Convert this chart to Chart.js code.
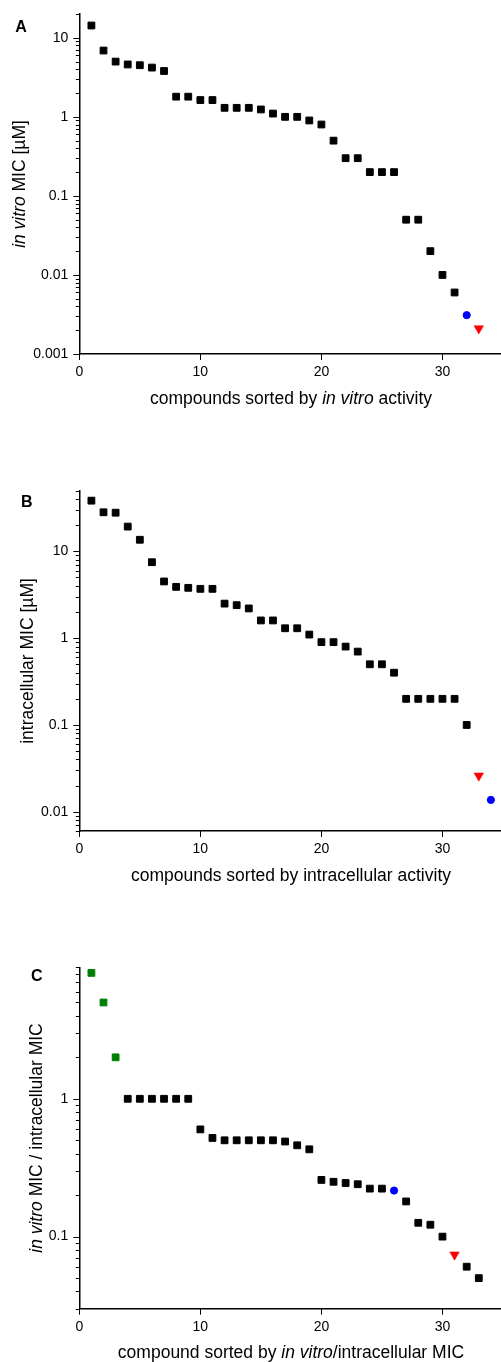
<!DOCTYPE html>
<html>
<head>
<meta charset="utf-8">
<script src="https://cdn.jsdelivr.net/npm/chart.js@4.4.1/dist/chart.umd.min.js"></script>
<style>
  body { margin: 0; background: #fff; }
  #page { position: relative; width: 501px; height: 1362px; overflow: hidden; font-family: 'Liberation Sans', Arial, sans-serif; color: #000; }
  canvas { position: absolute; left: 0; }
  .lbl { position: absolute; white-space: nowrap; line-height: 1; }
  .panel { font-weight: bold; font-size: 16px; transform: translate(-50%, -50%); }
  .xt { font-size: 17.5px; left: 79px; width: 424px; text-align: center; }
  .yt { font-size: 17.5px; transform: translate(-50%, -50%) rotate(-90deg); }
</style>
</head>
<body>
<div id="page">
  <canvas id="chartA" width="509" height="440" style="top:0px"></canvas>
  <canvas id="chartB" width="509" height="440" style="top:440px"></canvas>
  <canvas id="chartC" width="509" height="482" style="top:880px"></canvas>

  <div class="lbl panel" style="left:21px; top:27px">A</div>
  <div class="lbl yt" style="left:20px; top:184px"><i>in vitro</i> MIC [µM]</div>
  <div class="lbl xt" style="top:390px">compounds sorted by <i>in vitro</i> activity</div>

  <div class="lbl panel" style="left:26.7px; top:501.7px">B</div>
  <div class="lbl yt" style="left:28px; top:661px">intracellular MIC [µM]</div>
  <div class="lbl xt" style="top:867px">compounds sorted by intracellular activity</div>

  <div class="lbl panel" style="left:36.7px; top:976px">C</div>
  <div class="lbl yt" style="left:37px; top:1138px"><i>in vitro</i> MIC / intracellular MIC</div>
  <div class="lbl xt" style="top:1343.5px">compound sorted by <i>in vitro</i>/intracellular MIC</div>
</div>

<script>
// x tick labels (same for all three panels)
const xTicks = [0, 10, 20, 30];

// panel A - in vitro MIC
const rankA = [1, 2, 3, 4, 5, 6, 7, 8, 9, 10, 11, 12, 13, 14, 15, 16, 17, 18, 19, 20, 21, 22, 23, 24, 25, 26, 27, 28, 29, 30, 31];
const micA = [14.3, 6.9, 5.0, 4.6, 4.5, 4.2, 3.8, 1.8, 1.8, 1.63, 1.63, 1.3, 1.3, 1.3, 1.24, 1.1, 1.0, 1.0, 0.9, 0.8, 0.5, 0.3, 0.3, 0.2, 0.2, 0.2, 0.05, 0.05, 0.02, 0.01, 0.006];
const blueA = {x: 32, y: 0.0031};
const redA = {x: 33, y: 0.0021};
const yLabelsA = [0.001, 0.01, 0.1, 1, 10];

// panel B - intracellular MIC
const rankB = [1, 2, 3, 4, 5, 6, 7, 8, 9, 10, 11, 12, 13, 14, 15, 16, 17, 18, 19, 20, 21, 22, 23, 24, 25, 26, 27, 28, 29, 30, 31, 32];
const micB = [38.4, 28.2, 27.9, 19.3, 13.6, 7.5, 4.5, 3.9, 3.8, 3.7, 3.7, 2.5, 2.4, 2.2, 1.6, 1.6, 1.3, 1.3, 1.1, 0.9, 0.9, 0.8, 0.7, 0.5, 0.5, 0.4, 0.2, 0.2, 0.2, 0.2, 0.2, 0.1];
const redB = {x: 33, y: 0.026};
const blueB = {x: 34, y: 0.0137};
const yLabelsB = [0.01, 0.1, 1, 10];

// panel C - ratio in vitro / intracellular
const rankCgreen = [1, 2, 3];
const ratioCgreen = [8.2, 5.0, 2.0];
const rankC = [4, 5, 6, 7, 8, 9, 10, 11, 12, 13, 14, 15, 16, 17, 18, 19, 20, 21, 22, 23, 24, 25, 27, 28, 29, 30, 32, 33];
const ratioC = [1.0, 1.0, 1.0, 1.0, 1.0, 1.0, 0.6, 0.52, 0.5, 0.5, 0.5, 0.5, 0.5, 0.49, 0.46, 0.43, 0.258, 0.25, 0.245, 0.24, 0.223, 0.223, 0.18, 0.126, 0.122, 0.1, 0.0605, 0.05];
const blueC = {x: 26, y: 0.216};
const redC = {x: 31, y: 0.074};
const yLabelsC = [0.1, 1];

Chart.defaults.font.family = "'Liberation Sans', Arial, sans-serif";
Chart.defaults.font.size = 14;
Chart.defaults.color = '#000';

// minor + major tick positions of a log axis (1..9 x 10^n)
function logTicks(min, max) {
    const out = [];
    for (let e = Math.floor(Math.log10(min)); e <= Math.ceil(Math.log10(max)); e++) {
        for (let s = 1; s <= 9; s++) {
            const v = parseFloat((s * Math.pow(10, e)).toPrecision(6));
            if (v >= min * 0.9999 && v <= max * 1.0001) out.push(v);
        }
    }
    return out;
}

// tick marks drawn outside the plot, short ones for the minor log ticks
const tickMarks = {
    id: 'tickMarks',
    afterDraw(chart) {
        const {ctx, chartArea} = chart;
        const x = chart.scales.x;
        const y = chart.scales.y;
        ctx.save();
        ctx.strokeStyle = '#000';
        ctx.lineWidth = 1;
        y.ticks.forEach(t => {
            const py = Math.round(y.getPixelForValue(t.value)) + 0.5;
            const lg = Math.log10(t.value);
            const len = Math.abs(lg - Math.round(lg)) < 1e-6 ? 6 : 3.5;
            ctx.beginPath();
            ctx.moveTo(chartArea.left - len, py);
            ctx.lineTo(chartArea.left, py);
            ctx.stroke();
        });
        x.ticks.forEach(t => {
            const px = Math.round(x.getPixelForValue(t.value)) + 0.5;
            ctx.beginPath();
            ctx.moveTo(px, chartArea.bottom);
            ctx.lineTo(px, chartArea.bottom + 6);
            ctx.stroke();
        });
        ctx.restore();
    }
};

function squares(xs, ys, color) {
    return {
        data: xs.map((x, i) => ({x: x, y: ys[i]})),
        pointStyle: 'rect', pointRadius: 4.8, pointHoverRadius: 4.8,
        backgroundColor: color, borderColor: color, borderWidth: 1
    };
}
function circle(p) {
    return {
        data: [p], pointStyle: 'circle', pointRadius: 3.6, pointHoverRadius: 3.6,
        backgroundColor: '#0000ff', borderColor: '#0000ff', borderWidth: 1
    };
}
function triangle(p) {
    return {
        data: [p], pointStyle: 'triangle', rotation: 180, pointRadius: 5.5, pointHoverRadius: 5.5,
        backgroundColor: '#ff0000', borderColor: '#ff0000', borderWidth: 0.5
    };
}

function makeChart(id, opt) {
    const ctx = document.getElementById(id).getContext('2d');
    return new Chart(ctx, {
        type: 'scatter',
        data: {datasets: opt.datasets},
        options: {
            responsive: false,
            animation: false,
            clip: false,
            layout: {padding: {top: opt.top, left: 0, right: 0, bottom: 0}},
            plugins: {legend: {display: false}, tooltip: {enabled: false}},
            scales: {
                x: {
                    type: 'linear', min: 0, max: 35,
                    grid: {display: false, drawTicks: false},
                    border: {color: '#000', width: 1.5},
                    ticks: {padding: 10, autoSkip: false, maxRotation: 0},
                    afterBuildTicks: s => { s.ticks = xTicks.map(v => ({value: v})); },
                    afterFit: s => { s.height = opt.xh; s.paddingLeft = 0; s.paddingRight = 0; }
                },
                y: {
                    type: 'logarithmic', min: opt.min, max: opt.max,
                    grid: {display: false, drawTicks: false},
                    border: {color: '#000', width: 1.5},
                    ticks: {
                        padding: 11, autoSkip: false,
                        callback: v => opt.labels.includes(v) ? String(v) : ''
                    },
                    afterBuildTicks: s => { s.ticks = logTicks(opt.min, opt.max).map(v => ({value: v})); },
                    afterFit: s => { s.width = 79.3; s.paddingTop = 0; s.paddingBottom = 0; }
                }
            }
        },
        plugins: [tickMarks]
    });
}

makeChart('chartA', {
    top: 14, xh: 86, min: 0.001, max: 20, labels: yLabelsA,
    datasets: [squares(rankA, micA, '#000'), circle(blueA), triangle(redA)]
});

makeChart('chartB', {
    top: 50.7, xh: 49, min: 0.006, max: 50, labels: yLabelsB,
    datasets: [squares(rankB, micB, '#000'), triangle(redB), circle(blueB)]
});

makeChart('chartC', {
    top: 87.3, xh: 53.3, min: 0.03, max: 9, labels: yLabelsC,
    datasets: [squares(rankCgreen, ratioCgreen, '#008000'), squares(rankC, ratioC, '#000'), circle(blueC), triangle(redC)]
});
</script>
</body>
</html>
